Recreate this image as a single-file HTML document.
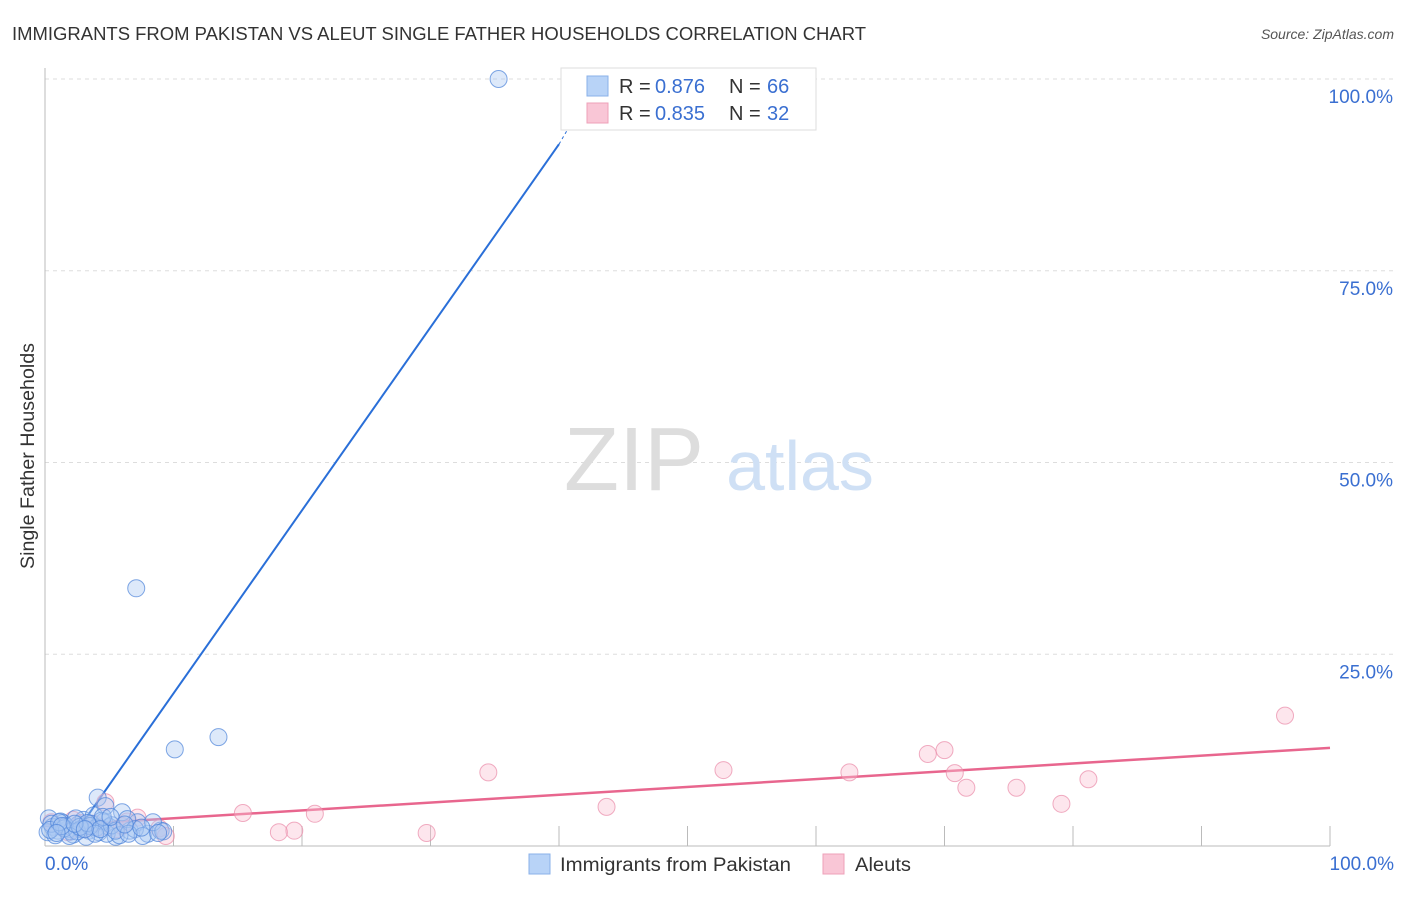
<!DOCTYPE html>
<html><head><meta charset="utf-8"><style>
body{margin:0;background:#fff;font-family:"Liberation Sans",sans-serif;}
svg text{font-family:"Liberation Sans",sans-serif;}
</style></head><body>
<svg width="1406" height="892">
<text x="12" y="40" font-size="18" fill="#333" textLength="854" lengthAdjust="spacingAndGlyphs">IMMIGRANTS FROM PAKISTAN VS ALEUT SINGLE FATHER HOUSEHOLDS CORRELATION CHART</text>
<text x="1394" y="39" font-size="14" fill="#555" font-style="italic" text-anchor="end">Source: ZipAtlas.com</text>
<g id="grid"></g>
<text x="634" y="490" font-size="90" fill="#ddd" font-family="Liberation Serif" text-anchor="middle">ZIP</text>
<text x="800" y="490" font-size="70" fill="#cfe0f5" text-anchor="middle">atlas</text>
<text transform="translate(34,456) rotate(-90)" font-size="19" fill="#333" text-anchor="middle" textLength="226" lengthAdjust="spacingAndGlyphs">Single Father Households</text>
<g id="lines"></g>
<g id="pts"></g>
<g>
<rect x="561" y="68" width="255" height="62" fill="#fff" stroke="#ddd"/>
<rect x="587" y="76" width="21" height="20" fill="#b8d3f7" stroke="#8ab0e8"/>
<rect x="587" y="103" width="21" height="20" fill="#f9c6d6" stroke="#eea0b8"/>
<text x="619" y="93" font-size="20" fill="#333">R =</text>
<text x="655" y="93" font-size="20" fill="#3a6fd1">0.876</text>
<text x="729" y="93" font-size="20" fill="#333">N =</text>
<text x="767" y="93" font-size="20" fill="#3a6fd1">66</text>
<text x="619" y="120" font-size="20" fill="#333">R =</text>
<text x="655" y="120" font-size="20" fill="#3a6fd1">0.835</text>
<text x="729" y="120" font-size="20" fill="#333">N =</text>
<text x="767" y="120" font-size="20" fill="#3a6fd1">32</text>
</g>
<g>
<rect x="529" y="854" width="21" height="20" fill="#b8d3f7" stroke="#8ab0e8"/>
<text x="560" y="871" font-size="19" fill="#333" textLength="231" lengthAdjust="spacingAndGlyphs">Immigrants from Pakistan</text>
<rect x="823" y="854" width="21" height="20" fill="#f9c6d6" stroke="#eea0b8"/>
<text x="855" y="871" font-size="19" fill="#333" textLength="56" lengthAdjust="spacingAndGlyphs">Aleuts</text>
</g>
</svg>
<script>
const yTicks=[0,25,50,75,100];
const yTickLabels=["","25.0%","50.0%","75.0%","100.0%"];
const blueX=[35.3,7.1,10.1,13.5,4.1,4.7,0.3,0.6,1,1.4,1.8,2.2,2.6,3,3.4,3.8,4.2,4.6,5,5.5,6,6.6,7.2,8,9,0.2,0.8,1.2,1.6,2,2.4,2.8,3.2,3.6,4,4.4,4.8,5.2,5.8,6.4,7,7.6,8.4,9.2,0.5,1.5,2.5,3.5,4.5,5.5,6.5,0.4,1.1,1.9,2.7,3.3,3.9,4.3,5.1,6.2,7.5,8.8,1.3,2.3,3.1,0.9];
const blueY=[100,33.6,12.6,14.2,6.3,5.2,3.6,2.5,2,3,2.2,1.5,2.8,3.4,2,4,1.8,3.2,2.5,1.2,4.4,2,3.1,1.6,2,1.8,1.4,3.2,2.6,1.9,3.6,2.2,1.2,2.9,2.4,3.3,1.6,2.7,1.4,3.5,2.2,1.3,3.1,1.9,2.9,2.3,1.9,2.6,3.8,2,1.6,2.1,3.1,1.3,2.5,3,1.6,2.2,3.8,2.8,2.4,1.7,2.6,2.9,2.2,1.7];
const pinkX=[96.5,70,68.7,70.8,71.7,62.6,52.8,34.5,81.2,75.6,79.1,43.7,29.7,21,15.4,19.4,18.2,4.7,7.2,8.9,9.4,0.5,1.3,2.2,3,3.8,5.6,6.4,1.8,2.8,4.2,6];
const pinkY=[17,12.5,12,9.5,7.6,9.6,9.9,9.6,8.7,7.6,5.5,5.1,1.7,4.2,4.3,2,1.8,5.7,3.7,2.3,1.3,3.1,2.5,3.4,2.2,2.9,2.2,3.2,1.8,3,2.4,2.6];
const blueLine=[[2,0.8],[40,91.5],[41.5,95.8]];
const pinkLine=[[0,2.6],[100,12.8]];
const X=v=>45+v*12.85, Y=v=>846-v*7.67;
const NS="http://www.w3.org/2000/svg";
function mk(t,a,p){const e=document.createElementNS(NS,t);for(const k in a)e.setAttribute(k,a[k]);document.getElementById(p).appendChild(e);return e;}
const g="grid";
yTicks.forEach((t,i)=>{if(t>0){const l=mk("line",{x1:45,x2:1394,y1:Y(t),y2:Y(t),stroke:"#ddd","stroke-dasharray":"4,4"},g);


const tx=mk("text",{x:1393,y:Y(t)+24,"font-size":19,fill:"#3a6fd1","text-anchor":"end"},g);tx.textContent=yTickLabels[i];

}});
const ax=mk("line",{x1:45,x2:45,y1:68,y2:846,stroke:"#bbb"},g);


const bx=mk("line",{x1:45,x2:1330,y1:846,y2:846,stroke:"#bbb"},g);


for(let i=1;i<=10;i++){const t=mk("line",{x1:X(i*10),x2:X(i*10),y1:826,y2:846,stroke:"#bbb"},g);

}
[["0.0%",45,"start"],["100.0%",1394,"end"]].forEach(a=>{const t=mk("text",{x:a[1],y:870,"font-size":19,fill:"#3a6fd1","text-anchor":a[2]},g);t.textContent=a[0];

});
function dots(xs,ys,f,s,n){xs.forEach((x,i)=>{const c=mk("circle",{cx:X(x),cy:Y(ys[i]),r:8.5,fill:f,"fill-opacity":0.4,stroke:s,"stroke-opacity":0.7},"pts");

});}
dots(pinkX,pinkY,"#f9c0d2","#ea8aa8","aleut-point");
dots(blueX,blueY,"#a9c8f2","#4a82d8","pakistan-point");
const b1=mk("line",{x1:X(blueLine[0][0]),y1:Y(blueLine[0][1]),x2:X(blueLine[1][0]),y2:Y(blueLine[1][1]),stroke:"#2a6fd8","stroke-width":2},"lines");


const b2=mk("line",{x1:X(blueLine[1][0]),y1:Y(blueLine[1][1]),x2:X(blueLine[2][0]),y2:Y(blueLine[2][1]),stroke:"#2a6fd8","stroke-width":1,"stroke-dasharray":"3,3"},"lines");


const p1=mk("line",{x1:X(pinkLine[0][0]),y1:Y(pinkLine[0][1]),x2:X(pinkLine[1][0]),y2:Y(pinkLine[1][1]),stroke:"#e8668e","stroke-width":2.5},"lines");


</script>
</body></html>
